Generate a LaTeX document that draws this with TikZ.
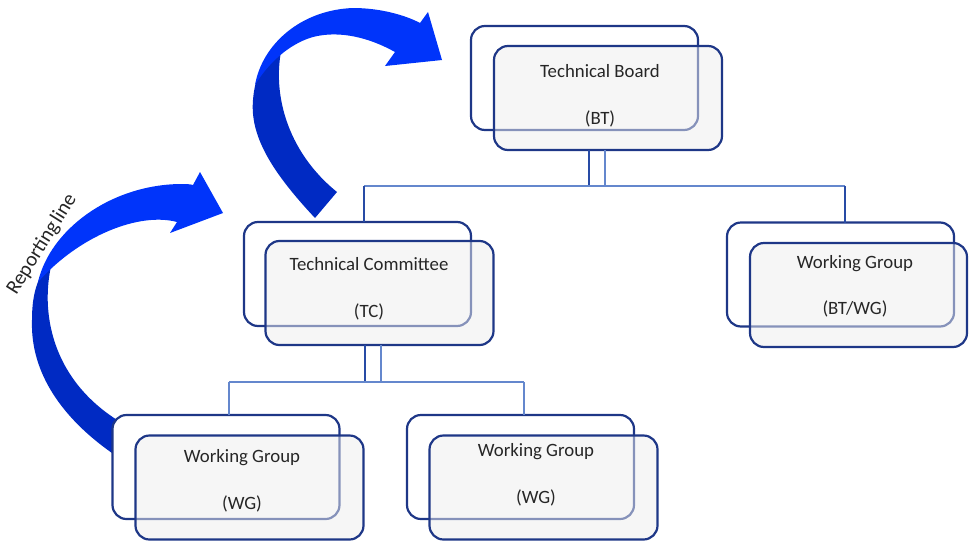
\documentclass[tikz,border=0pt]{standalone}
\usepackage{fontspec}
\setmainfont{Carlito}
\begin{document}
\begin{tikzpicture}[x=1pt,y=-1pt,
  every node/.style={inner sep=0pt,outer sep=0pt},
  backbox/.style={draw=boxblue,line width=2.2pt,rounded corners=14pt,fill=white,
    minimum width=227pt,minimum height=104pt},
  frontbox/.style={draw=boxblue,line width=2.2pt,rounded corners=14pt,fill=frontgray,
    fill opacity=0.5,draw opacity=1,minimum width=228pt,minimum height=104pt},
  label/.style={anchor=base,text=textgray,font=\fontsize{18.8}{22}\selectfont},
  busdark/.style={draw=linedark,line width=1.3pt},
  buslight/.style={draw=linelight,line width=1.3pt},
  arrowdark/.style={fill=arrowdeep},
  arrowbright/.style={fill=arrowlight}]
\definecolor{boxblue}{RGB}{30,55,135}
\definecolor{frontgray}{RGB}{238,238,238}
\definecolor{textgray}{RGB}{38,38,38}
\definecolor{linedark}{RGB}{40,75,165}
\definecolor{linelight}{RGB}{100,135,205}
\definecolor{arrowdeep}{RGB}{0,42,195}
\definecolor{arrowlight}{RGB}{0,52,250}

\useasboundingbox (0,0) rectangle (969,541);

% curved reporting arrow from TC up to BT: shaded leg, then the bright arch
\fill[arrowdark] (315,218) .. controls (270,170) and (250,135) .. (253,100)
  .. controls (254,88) and (256,80) .. (260,72) -- (282,47)
  .. controls (272,90) and (285,150) .. (337,192) -- cycle;
\fill[arrowbright] (255,85) .. controls (262,45) and (300,10) .. (353,8)
  .. controls (380,8) and (405,15) .. (420,23) -- (428,12) -- (442,60) -- (385,66) -- (395,52)
  .. controls (370,38) and (340,30) .. (313,37)
  .. controls (295,42) and (272,57) .. (255,85) -- cycle;

% curved reporting arrow from WG up to TC (its foot runs behind the WG box)
\fill[arrowdark] (137,471) -- (112,453) .. controls (65,420) and (30,375) .. (32,320)
  .. controls (32,300) and (35,288) .. (40,277) -- (52,262)
  .. controls (40,310) and (50,380) .. (122,423) -- (147,439) -- cycle;
\fill[arrowbright] (38,282) .. controls (50,230) and (110,185) .. (180,184)
  .. controls (185,184) and (190,184) .. (193,185) -- (200,172) -- (223,213) -- (170,233) -- (177,222)
  .. controls (140,212) and (80,235) .. (38,282) -- cycle;
\node[rotate=58,anchor=base,text=textgray,font=\fontsize{20.5}{24}\selectfont] (rep) at (46.5,247.5) {Reporting\hspace{0.1em}line};

% boxes: white back panel with a translucent panel in front
\node[backbox] (btb) at (584.5,78) {};
\node[frontbox] (btf) at (608,98) {};
\node[backbox] (tcb) at (357.5,274) {};
\node[frontbox] (tcf) at (379.5,293) {};
\node[backbox] (bwb) at (840.5,274.5) {};
\node[frontbox,minimum width=217pt] (bwf) at (858.5,295) {};
\node[backbox] (wab) at (226,467) {};
\node[frontbox] (waf) at (249.5,487.5) {};
\node[backbox] (wbb) at (520.5,467) {};
\node[frontbox] (wbf) at (543.5,487.5) {};

% labels
\node[label] (btt1) at (600,77) {Technical Board};
\node[label] (btt2) at (600,124.5) {(BT)};
\node[label] (tct1) at (369,270) {Technical Committee};
\node[label] (tct2) at (369,317.5) {(TC)};
\node[label] (bwt1) at (855,268) {Working Group};
\node[label] (bwt2) at (855,314.5) {(BT/WG)};
\node[label] (wat1) at (242,462) {Working Group};
\node[label] (wat2) at (242,509.5) {(WG)};
\node[label] (wbt1) at (536,456) {Working Group};
\node[label] (wbt2) at (536,503.5) {(WG)};

% connectors below the Technical Board
\coordinate (bt1) at (589,186);
\coordinate (bt2) at (605,186);
\coordinate (busA) at (364,186);
\coordinate (busB) at (845,186);
\draw[busdark] (btf.south -| bt1) -- (bt1);
\draw[buslight] (btf.south -| bt2) -- (bt2);
\draw[buslight] (busA) -- (busB);
\draw[busdark] (busA) -- (tcb.north -| busA);
\draw[busdark] (busB) -- (bwb.north -| busB);

% connectors below the Technical Committee
\coordinate (tc1) at (365,382);
\coordinate (tc2) at (381,382);
\coordinate (busC) at (229,382);
\coordinate (busD) at (524,382);
\draw[busdark] (tcf.south -| tc1) -- (tc1);
\draw[buslight] (tcf.south -| tc2) -- (tc2);
\draw[buslight] (busC) -- (busD);
\draw[buslight] (busC) -- (wab.north -| busC);
\draw[buslight] (busD) -- (wbb.north -| busD);
\end{tikzpicture}
\end{document}
